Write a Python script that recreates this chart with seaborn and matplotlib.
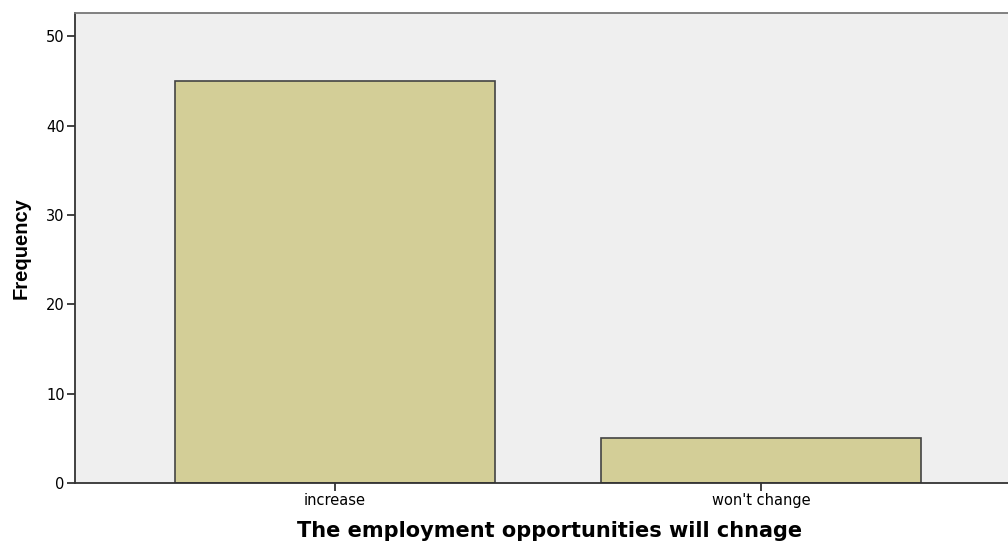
import pandas as pd
import seaborn as sns
import matplotlib.pyplot as plt

# Data
categories = ["increase", "won't change"]
frequency = [45, 5]

df = pd.DataFrame({"Response": categories, "Frequency": frequency})

sns.set_style("white")
plt.rcParams['font.family'] = ['DejaVu Sans']
plt.rcParams['text.color'] = 'black'
plt.rcParams['axes.labelcolor'] = 'black'

fig = plt.figure(figsize=(10.08, 5.46), dpi=100)
ax = fig.add_axes([0.0744, 0.1154, 0.9256, 0.8606])
ax.set_facecolor("#EFEFEF")

sns.barplot(
    data=df,
    x='Response',
    y='Frequency',
    color="#D3CE97",
    saturation=1,
    width=0.75,
    edgecolor="#444444",
    linewidth=1.2,
    ax=ax
)

ax.set_xlim(-0.61, 1.58)
ax.set_ylim(0, 52.6)
ax.set_yticks([0, 10, 20, 30, 40, 50])

for side in ['left', 'bottom']:
    ax.spines[side].set_color("#333333")
    ax.spines[side].set_linewidth(1.3)
ax.spines['top'].set_color("#777777")
ax.spines['top'].set_linewidth(1.3)
ax.spines['right'].set_visible(False)

ax.tick_params(axis='both', bottom=True, left=True, direction='out',
               length=6, width=1.3, color="#333333", labelcolor='black',
               labelsize=10.5, pad=1.5)

ax.set_xlabel("The employment opportunities will chnage",
              fontsize=15, fontweight='bold')
ax.xaxis.set_label_coords(0.509, -0.08)
ax.set_ylabel("Frequency", fontsize=14.5, fontweight='bold',
              family=['Liberation Sans Narrow', 'Liberation Sans'], labelpad=11)

plt.savefig("out.png", dpi=100)
